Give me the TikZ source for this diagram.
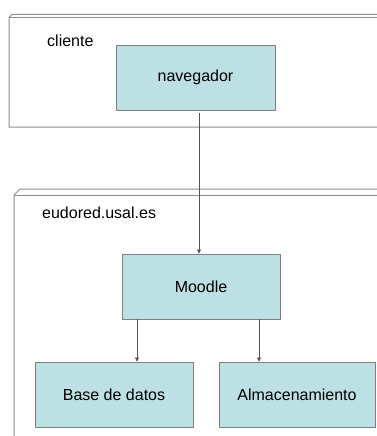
\documentclass[tikz,border=0pt]{standalone}
\usepackage{fontspec}
\setmainfont{Liberation Sans}
\usetikzlibrary{arrows.meta}
\definecolor{boxfill}{HTML}{BCE0E3}
\definecolor{boxline}{HTML}{7F7F7F}
\definecolor{frameline}{HTML}{8C8C8C}
\definecolor{arrowline}{HTML}{555555}
\begin{document}
\begin{tikzpicture}[x=1pt,y=-1pt,
  compbox/.style={draw=boxline,fill=boxfill,line width=0.9pt,minimum height=65pt,inner sep=0pt,font=\fontsize{16}{19}\selectfont},
  framelbl/.style={anchor=west,inner sep=0pt,font=\fontsize{16}{19}\selectfont},
  frame/.style={draw=frameline,line width=1pt},
  conn/.style={draw=arrowline,line width=0.7pt,-{Triangle[length=4pt,width=4pt]}}]
\useasboundingbox (0,0) rectangle (377,436);
\clip (0,0) rectangle (377,436);
\fill[white] (0,0) rectangle (377,436);
% cliente frame
\draw[frame] (380,127) -- (9,127) -- (9,17.5) -- (12,14.5) -- (380,14.5);
\draw[frame] (9,17.5) -- (380,17.5);
% eudored frame
\draw[frame] (14,440) -- (14,195) -- (20,189) -- (380,189);
\draw[frame] (14,195) -- (380,195);
\node[framelbl] (lcli) at (47,41) {cliente};
\node[framelbl] (leud) at (42,213) {eudored.usal.es};
\node[compbox,minimum width=159pt] (nav) at (195.5,77.5) {navegador};
\node[compbox,minimum width=158pt] (moodle) at (201,286.5) {Moodle};
\node[compbox,minimum width=158pt] (bd) at (114,394.5) {Base de datos};
\node[compbox,minimum width=156pt] (alm) at (297,394.5) {Almacenamiento};
\draw[conn] ([xshift=3.5pt,yshift=-3pt]nav.south) -- ([xshift=3.5pt]nav.south |- moodle.north);
\draw[conn] ([xshift=-64pt]moodle.south) -- ([xshift=-64pt]moodle.south |- bd.north);
\draw[conn] ([xshift=58pt]moodle.south) -- ([xshift=58pt]moodle.south |- alm.north);
\end{tikzpicture}
\end{document}
